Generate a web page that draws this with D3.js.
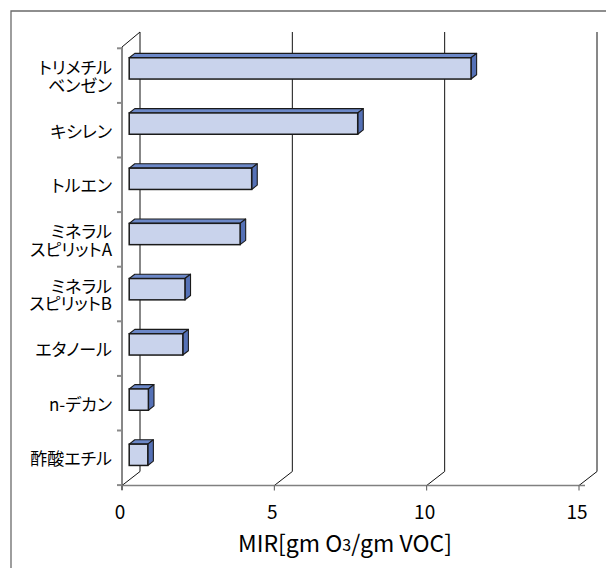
<!DOCTYPE html>
<html><head><meta charset="utf-8">
<script src="https://cdn.jsdelivr.net/npm/d3@7"></script>
<style>
html,body{margin:0;padding:0;background:#fff;}
text{font-family:"Noto Sans CJK JP","Noto Sans",sans-serif;fill:#000;}
.cat{font-feature-settings:"palt" 1;}
</style></head>
<body>
<svg id="chart" width="606" height="568"></svg>
<script>
// ---- data ----
const categories = ["トリメチル\nベンゼン","キシレン","トルエン","ミネラル\nスピリットA","ミネラル\nスピリットB","エタノール","n-デカン","酢酸エチル"];
const values = [11.22, 7.50, 4.02, 3.64, 1.83, 1.76, 0.63, 0.61];
const xTicks = [0, 5, 10, 15];
const axisTitle = ["MIR[gm O", "3", "/gm VOC]"];

// ---- layout ----
const svg = d3.select("#chart");
const FX0 = 122, FX1 = 579;       // front value axis
const FB = 485.5, FT = 47;         // front floor / top of left axis
const DX = 18, DY = -14;           // wall depth vector
const backTop = 32;
const t0 = 0.4, t1 = 0.71;         // bar depth (fraction of wall depth)

const x = d3.scaleLinear().domain([0, 15]).range([FX0, FX1]);
const yTick = d3.scaleBand().domain(categories).range([48.3, 485.1]).padding(0);
const yBar = d3.scaleBand().domain(categories).range([46.4, 488]).paddingInner(0.614).paddingOuter(0.307);

// outer frame
svg.append("path").attr("d", `M11,570 L11,11 L610,11`).attr("fill","none").attr("stroke","#6a6a6a").attr("stroke-width",1.3);

// back wall gridlines + floor diagonals
const grid = svg.append("g").attr("stroke","#111").attr("stroke-width",1).attr("fill","none");
xTicks.forEach(v => {
  const px = x(v);
  grid.append("path").attr("d", `M${px+DX},${FB+DY} L${px+DX},${backTop}`);
  grid.append("path").attr("d", `M${px},${FB} L${px+DX},${FB+DY}`);
});
grid.append("path").attr("d", `M${FX0},${FT} L${FX0+DX},${backTop}`);

// bars
const fc = "#c9d3ec", topC = "#6c88c8", sideC = "#5571b6", edge = "#1a1a1a";
const bars = svg.append("g");
categories.forEach((c, i) => {
  const v = values[i];
  const xl = x(0) + DX*t0, xr = x(v) + DX*t0;
  const yt = yBar(c) + DY*t0, yb = yt + yBar.bandwidth();
  const ddx = DX*(t1-t0), ddy = DY*(t1-t0);
  const g = bars.append("g");
  g.append("path").attr("d", `M${xl},${yt} L${xl+ddx},${yt+ddy} L${xr+ddx},${yt+ddy} L${xr},${yt} Z`)
    .attr("fill", topC).attr("stroke", edge).attr("stroke-width", 1.1).attr("stroke-linejoin","round");
  g.append("path").attr("d", `M${xr},${yt} L${xr+ddx},${yt+ddy} L${xr+ddx},${yb+ddy} L${xr},${yb} Z`)
    .attr("fill", sideC).attr("stroke", edge).attr("stroke-width", 1.1).attr("stroke-linejoin","round");
  g.append("rect").attr("x", xl).attr("y", yt).attr("width", xr-xl).attr("height", yb-yt)
    .attr("fill", fc).attr("stroke", edge).attr("stroke-width", 1.5);
});

// left (category) axis
svg.append("line").attr("x1",FX0).attr("x2",FX0).attr("y1",FT).attr("y2",FB+4.5).attr("stroke","#111").attr("stroke-width",1);
const tickYs = categories.map(c => yTick(c)).concat([yTick.range()[1]]);
tickYs.forEach(ty => {
  svg.append("line").attr("x1",FX0-5).attr("x2",FX0).attr("y1",ty).attr("y2",ty).attr("stroke","#8a8a8a").attr("stroke-width",2);
});
// category labels
categories.forEach(c => {
  const lines = c.split("\n");
  const cy = yTick(c) + yTick.bandwidth()/2;
  const lh = 17.5;
  const t = svg.append("text").attr("class","cat").attr("text-anchor","end").attr("font-size",17);
  lines.forEach((ln, k) => {
    t.append("tspan").attr("x",112).attr("y", cy + (k - (lines.length-1)/2)*lh).attr("dominant-baseline","central").text(ln);
  });
});

// value axis
svg.append("line").attr("x1",FX0).attr("x2",FX1+6).attr("y1",FB).attr("y2",FB).attr("stroke","#808080").attr("stroke-width",1.6);
xTicks.forEach(v => {
  svg.append("line").attr("x1",x(v)).attr("x2",x(v)).attr("y1",FB).attr("y2",FB+5).attr("stroke","#555").attr("stroke-width",1);
  svg.append("text").attr("x",x(v)-2).attr("y",519).attr("text-anchor","middle").attr("font-size",19).text(v);
});

// axis title
const at = svg.append("text").attr("x",345).attr("y",552).attr("text-anchor","middle").attr("font-size",23);
at.append("tspan").text(axisTitle[0]);
at.append("tspan").attr("font-size",16).attr("dy",-1).text(axisTitle[1]);
at.append("tspan").attr("font-size",23).attr("dy",1).text(axisTitle[2]);
</script>
</body></html>
